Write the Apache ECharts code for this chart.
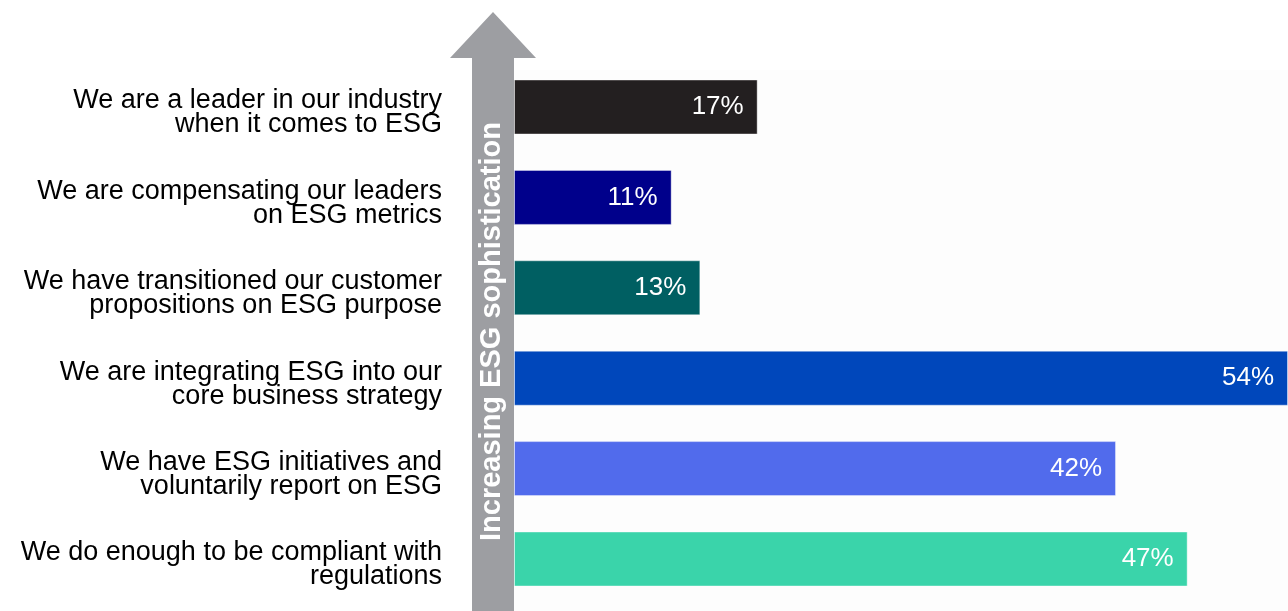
<!DOCTYPE html>
<html>
<head>
<meta charset="utf-8">
<script src="https://cdn.jsdelivr.net/npm/echarts@6/dist/echarts.min.js"></script>
<style>
  html, body { margin: 0; padding: 0; background: #ffffff; }
  #chart { width: 1288px; height: 611px; }
</style>
</head>
<body>
<div id="chart"></div>
<script>
// Statements, top (most sophisticated) to bottom
const categories = [
  'We are a leader in our industry\nwhen it comes to ESG',
  'We are compensating our leaders\non ESG metrics',
  'We have transitioned our customer\npropositions on ESG purpose',
  'We are integrating ESG into our\ncore business strategy',
  'We have ESG initiatives and\nvoluntarily report on ESG',
  'We do enough to be compliant with\nregulations'
];
// Share of respondents (%)
const values = [17, 11, 13, 54, 42, 47];
const barColors = ['#231f20', '#00008b', '#005f62', '#0047bb', '#516bec', '#3ad4aa'];
const arrowText = 'Increasing ESG sophistication';

const FONT = '"Liberation Sans", Arial, Helvetica, sans-serif';

const chart = echarts.init(document.getElementById('chart'), null, { renderer: 'canvas' });

chart.setOption({
  backgroundColor: '#ffffff',
  animation: false,
  grid: { left: 514, right: 0, top: 61.8, bottom: 6.8, containLabel: false },
  xAxis: {
    type: 'value', min: 0, max: 54,
    show: false
  },
  yAxis: {
    type: 'category',
    data: categories,
    inverse: true,
    axisLine: { show: false },
    axisTick: { show: false },
    splitLine: { show: false },
    axisLabel: {
      margin: 72,
      align: 'right',
      // a short blank first line nudges each two-line label slightly below its bar centre
      formatter: (v) => '{gap| }\n' + v.split('\n').map(s => '{t|' + s + '}').join('\n'),
      rich: {
        gap: { fontSize: 10, lineHeight: 12 },
        t: {
          color: '#000000',
          fontFamily: FONT,
          fontSize: 27,
          lineHeight: 24,
          align: 'right'
        }
      }
    }
  },
  graphic: [
    {
      type: 'rect',
      z: -10,
      shape: { x: 514, y: 70, width: 774, height: 541 },
      style: { fill: '#fdfdfd' }
    },
    {
      type: 'polygon',
      z: 10,
      shape: {
        points: [[472, 611], [472, 58], [450, 58], [493, 12], [536, 58], [514, 58], [514, 611]]
      },
      style: { fill: '#9d9ea2' }
    },
    {
      type: 'text',
      z: 11,
      x: 492,
      y: 331.5,
      rotation: Math.PI / 2,
      style: {
        text: arrowText,
        fill: '#ffffff',
        font: 'bold 29px ' + FONT,
        textAlign: 'center',
        textVerticalAlign: 'middle'
      }
    }
  ],
  series: [{
    type: 'bar',
    data: values.map((v, i) => ({
      value: v,
      itemStyle: { color: barColors[i] }
    })),
    barWidth: 55,
    itemStyle: {
      borderColor: 'rgba(255,255,255,0.4)',
      borderWidth: 1
    },
    label: {
      show: true,
      position: 'insideRight',
      distance: 14,
      color: '#ffffff',
      fontFamily: FONT,
      fontSize: 26,
      formatter: '{c}%'
    }
  }]
});
</script>
</body>
</html>
